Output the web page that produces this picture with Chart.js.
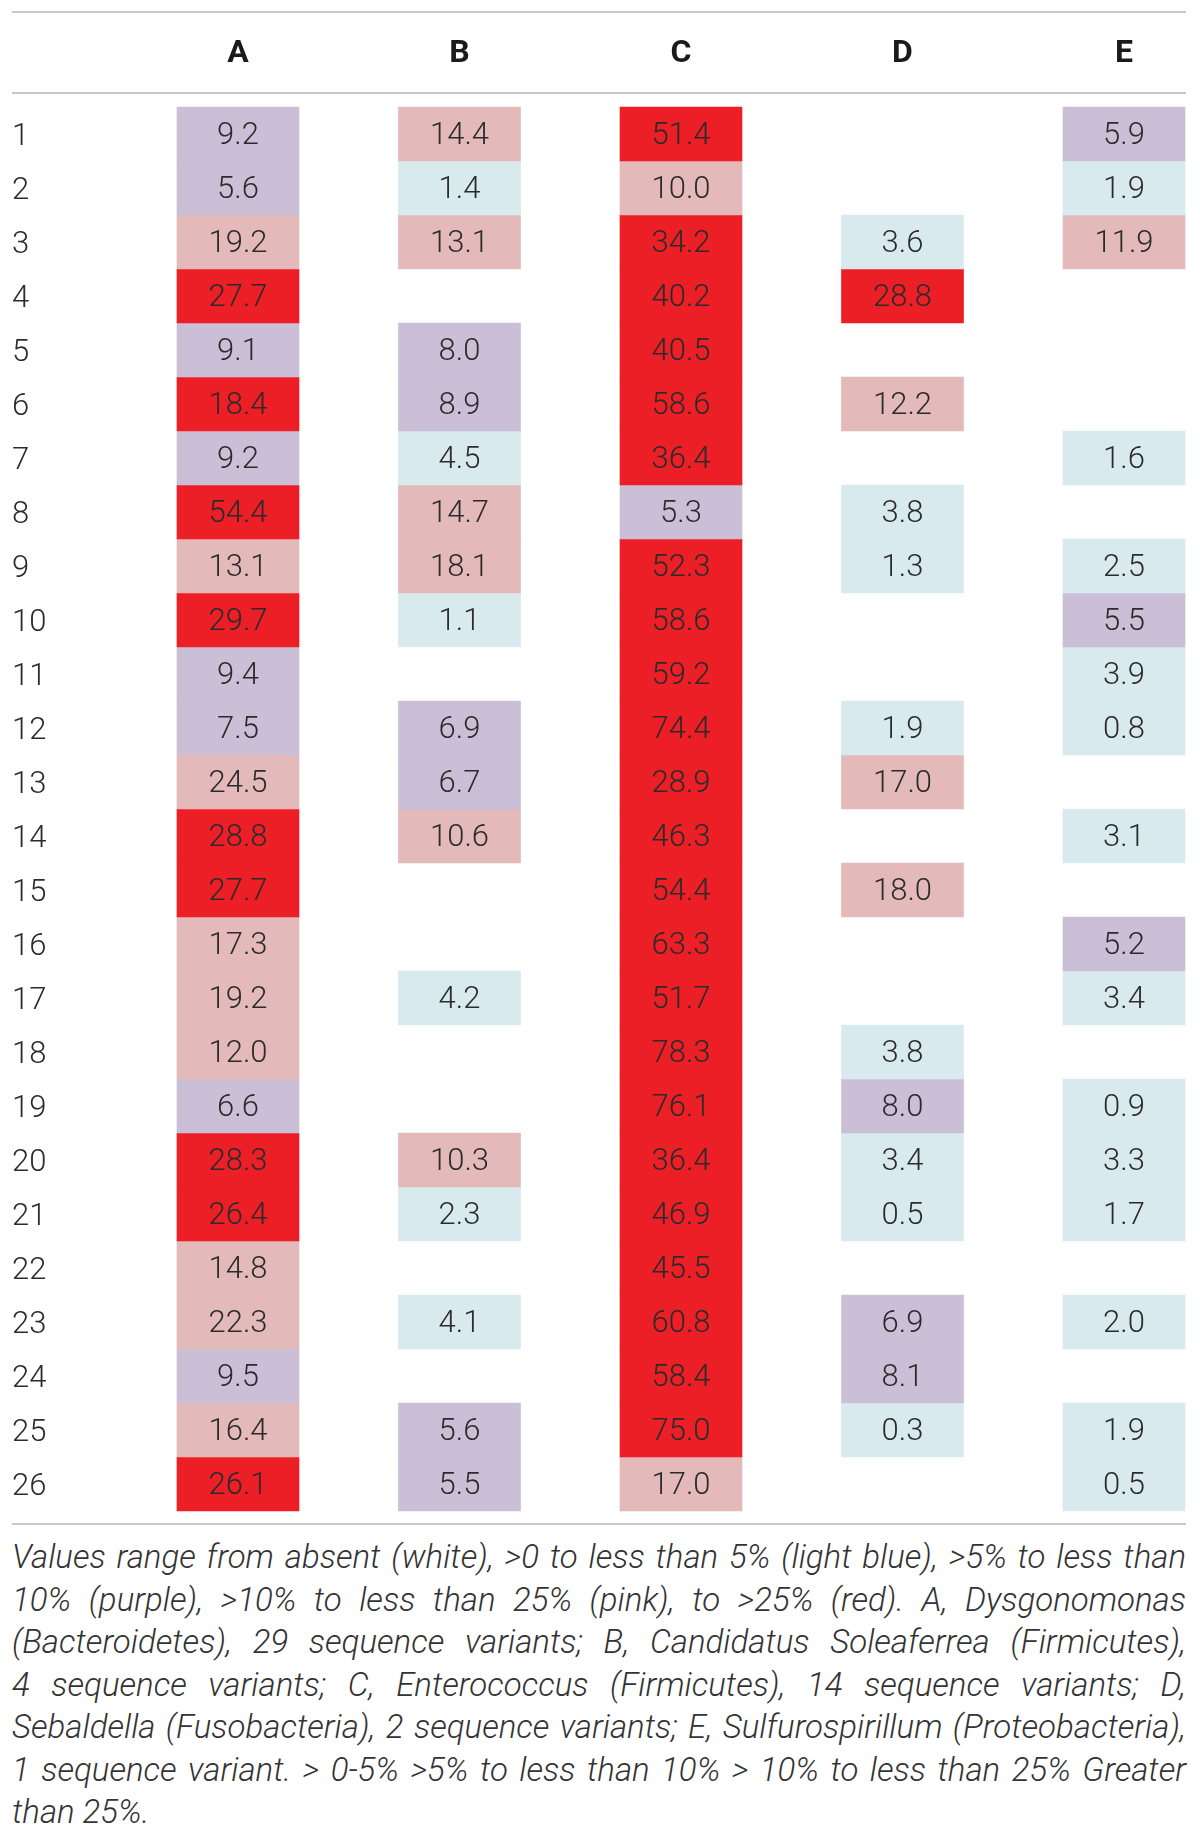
<!DOCTYPE html>
<html>
<head>
<meta charset="utf-8">
<script src="https://cdn.jsdelivr.net/npm/chart.js@4"></script>
<style>
  body { margin: 0; background: #fff; }
  #wrap { position: relative; width: 1200px; height: 1530px; }
  #caption { position: absolute; left: 12px; top: 1536px; width: 1174px; color: #333;
    font-family: Roboto, "Liberation Sans", sans-serif; font-style: italic; font-weight: 300;
    font-size: 33px; }
  #caption div { height: 42.5px; line-height: 42.5px; white-space: nowrap;
    text-align: justify; text-align-last: justify; }
  #caption div.last { text-align-last: left; }
</style>
</head>
<body>
<div id="wrap"><canvas id="heat"></canvas></div>
<div id="caption">
  <div>Values range from absent (white), &gt;0 to less than 5% (light blue), &gt;5% to less than</div>
  <div>10% (purple), &gt;10% to less than 25% (pink), to &gt;25% (red). A, Dysgonomonas</div>
  <div>(Bacteroidetes), 29 sequence variants; B, Candidatus Soleaferrea (Firmicutes),</div>
  <div>4 sequence variants; C, Enterococcus (Firmicutes), 14 sequence variants; D,</div>
  <div>Sebaldella (Fusobacteria), 2 sequence variants; E, Sulfurospirillum (Proteobacteria),</div>
  <div>1 sequence variant. &gt; 0-5% &gt;5% to less than 10% &gt; 10% to less than 25% Greater</div>
  <div class="last">than 25%.</div>
</div>
<script>
const columns = ["A", "B", "C", "D", "E"];
const rows = [1, 2, 3, 4, 5, 6, 7, 8, 9, 10, 11, 12, 13, 14, 15, 16, 17, 18, 19, 20, 21, 22, 23, 24, 25, 26];

// null = absent (white)
const colA = [9.2, 5.6, 19.2, 27.7, 9.1, 18.4, 9.2, 54.4, 13.1, 29.7, 9.4, 7.5, 24.5, 28.8, 27.7, 17.3, 19.2, 12.0, 6.6, 28.3, 26.4, 14.8, 22.3, 9.5, 16.4, 26.1];
const colB = [14.4, 1.4, 13.1, null, 8.0, 8.9, 4.5, 14.7, 18.1, 1.1, null, 6.9, 6.7, 10.6, null, null, 4.2, null, null, 10.3, 2.3, null, 4.1, null, 5.6, 5.5];
const colC = [51.4, 10.0, 34.2, 40.2, 40.5, 58.6, 36.4, 5.3, 52.3, 58.6, 59.2, 74.4, 28.9, 46.3, 54.4, 63.3, 51.7, 78.3, 76.1, 36.4, 46.9, 45.5, 60.8, 58.4, 75.0, 17.0];
const colD = [null, null, 3.6, 28.8, null, 12.2, null, 3.8, 1.3, null, null, 1.9, 17.0, null, 18.0, null, null, 3.8, 8.0, 3.4, 0.5, null, 6.9, 8.1, 0.3, null];
const colE = [5.9, 1.9, 11.9, null, null, null, 1.6, null, 2.5, 5.5, 3.9, 0.8, null, 3.1, null, 5.2, 3.4, null, 0.9, 3.3, 1.7, null, 2.0, null, 1.9, 0.5];
const allCols = [colA, colB, colC, colD, colE];

// cells shown red in the source even though below 25
const redCells = [["A", 6]];

const binColors = ["#d9eaef", "#cbbfd7", "#e4b9b9", "#ec1f26"];

function cellColor(v, col, row) {
  if (redCells.some(c => c[0] === col && c[1] === row)) return binColors[3];
  if (v > 25) return binColors[3];
  if (v >= 10) return binColors[2];
  if (v >= 5) return binColors[1];
  return binColors[0];
}

const datasets = rows.map((r, i) => ({
  label: "" + r,
  data: allCols.map(c => (c[i] === null ? null : [r - 0.5, r + 0.5])),
  values: allCols.map(c => c[i]),
  backgroundColor: allCols.map((c, j) => (c[i] === null ? "rgba(0,0,0,0)" : cellColor(c[i], columns[j], r))),
  borderWidth: 0,
  grouped: false,
  barThickness: 122,
  clip: false,
}));

const cellFont = "300 31px Roboto, 'Liberation Sans', sans-serif";

const cellText = {
  id: "cellText",
  afterDatasetsDraw(chart) {
    const c = chart.ctx;
    c.save();
    c.font = cellFont;
    c.fillStyle = "#2b2b2b";
    c.textAlign = "center";
    c.textBaseline = "middle";
    chart.data.datasets.forEach((ds, di) => {
      chart.getDatasetMeta(di).data.forEach((el, j) => {
        const v = ds.values[j];
        if (v === null) return;
        c.fillText(v.toFixed(1), el.x, (el.y + el.base) / 2 + 2);
      });
    });
    c.restore();
  },
};

const rules = {
  id: "rules",
  beforeDraw(chart) {
    const c = chart.ctx;
    const a = chart.chartArea;
    c.save();
    c.strokeStyle = "#c8c8c8";
    c.lineWidth = 2;
    [12, a.top - 14, a.bottom + 13].forEach(y => {
      c.beginPath();
      c.moveTo(12, y);
      c.lineTo(chart.width - 14, y);
      c.stroke();
    });
    c.restore();
  },
};

new Chart(document.getElementById("heat"), {
  type: "bar",
  data: { labels: columns, datasets: datasets },
  options: {
    responsive: true,
    maintainAspectRatio: false,
    animation: false,
    events: [],
    layout: { padding: { left: 12, right: 76, top: 0, bottom: 19 } },
    plugins: { legend: { display: false }, tooltip: { enabled: false } },
    scales: {
      x: {
        type: "category",
        position: "top",
        offset: false,
        grid: { display: false, drawTicks: false },
        border: { display: false },
        ticks: { color: "#1a1a1a", padding: 34, font: { family: "Roboto, 'Liberation Sans', sans-serif", size: 32, weight: "bold" } },
        afterFit(s) { s.height = 107; },
      },
      y: {
        type: "linear",
        reverse: true,
        min: 0.5,
        max: 26.5,
        grid: { display: false, drawTicks: false },
        border: { display: false },
        afterBuildTicks(s) { s.ticks = rows.map(r => ({ value: r })); },
        ticks: {
          crossAlign: "far",
          padding: 0,
          labelOffset: 3,
          color: "#2b2b2b",
          font: { family: "Roboto, 'Liberation Sans', sans-serif", size: 31, weight: "300" },
          callback: v => "" + v,
        },
        afterFit(s) { s.width = 226; },
      },
    },
  },
  plugins: [rules, cellText],
});
</script>
</body>
</html>
